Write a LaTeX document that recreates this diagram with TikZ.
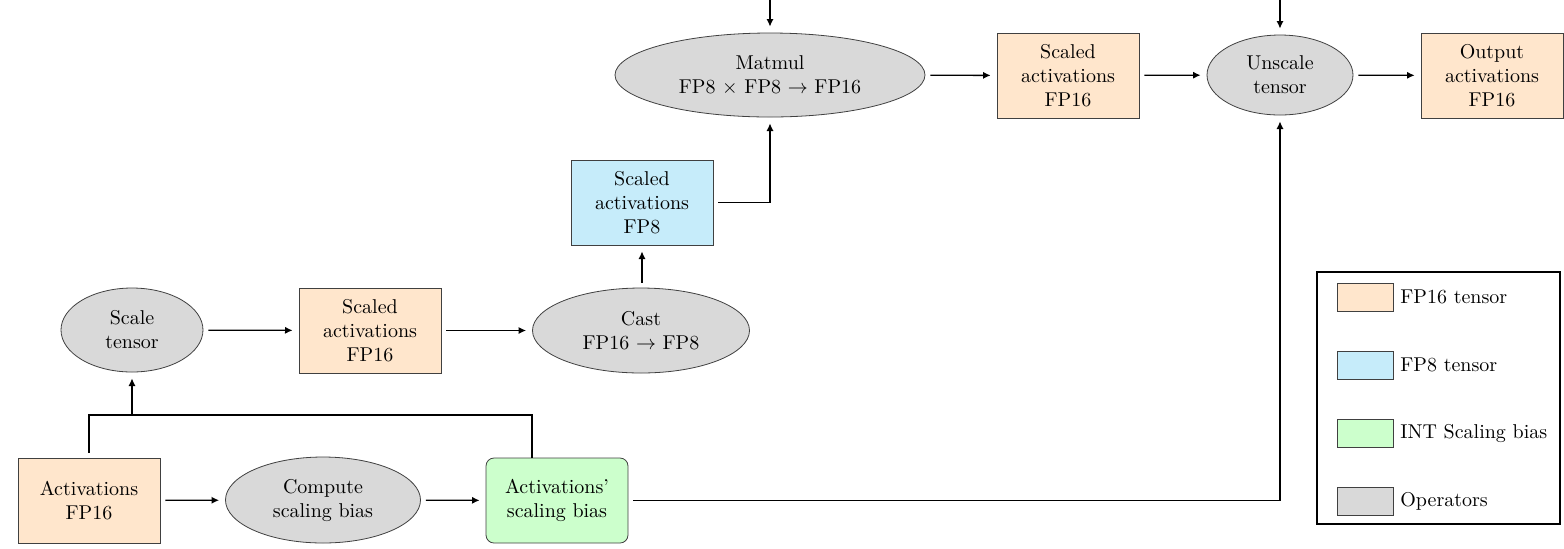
\documentclass[tikz,border=0pt]{standalone}
\usetikzlibrary{shapes.geometric,arrows.meta,calc}
\definecolor{fpsixteen}{RGB}{255,230,204}
\definecolor{fpeight}{RGB}{198,236,250}
\definecolor{intbias}{RGB}{204,255,204}
\definecolor{opgray}{RGB}{217,217,217}
\begin{document}
\begin{tikzpicture}[x=0.5pt,y=-0.5pt,
  tensor/.style={rectangle,draw=black!75,minimum width=71pt,minimum height=42.5pt,align=center,inner sep=2pt},
  fpsix/.style={tensor,fill=fpsixteen},
  fpei/.style={tensor,fill=fpeight},
  biasbox/.style={tensor,fill=intbias,rounded corners=4pt},
  op/.style={ellipse,draw=black!75,fill=opgray,align=center,inner sep=0pt},
  conn/.style={line width=0.65pt,-{Latex[length=3.8pt,width=3.6pt]},shorten >=3pt,shorten <=2.5pt},
  wire/.style={line width=0.65pt},
  swatch/.style={rectangle,draw=black!75,minimum width=28pt,minimum height=14pt,inner sep=0pt},
  legtext/.style={anchor=west,inner sep=0pt}]
\useasboundingbox (0,0) rectangle (1564,548);

% top row
\node[op,minimum width=155pt,minimum height=42pt] (matmul) at (770,75) {Matmul\\FP8 $\times$ FP8 $\rightarrow$ FP16};
\node[fpsix] (sa16top) at (1068,75.5) {Scaled\\activations\\FP16};
\node[op,minimum width=73pt,minimum height=40pt] (unscale) at (1280,75) {Unscale\\tensor};
\node[fpsix] (out) at (1492,75.5) {Output\\activations\\FP16};

% middle
\node[fpei] (sa8) at (642,202.5) {Scaled\\activations\\FP8};
\node[op,minimum width=71pt,minimum height=42pt] (scale) at (132,330) {Scale\\tensor};
\node[fpsix] (sa16mid) at (370,330.5) {Scaled\\activations\\FP16};
\node[op,minimum width=108.5pt,minimum height=42.5pt] (cast) at (641,330.5) {Cast\\FP16 $\rightarrow$ FP8};

% bottom
\node[fpsix] (act) at (89,500.5) {Activations\\FP16};
\node[op,minimum width=97.5pt,minimum height=43pt] (compute) at (323,500) {Compute\\scaling bias};
\node[biasbox] (bias) at (557,500.5) {Activations'\\scaling bias};

% free ends
\coordinate (topM) at (770,0);
\coordinate (topU) at (1280,0);
\coordinate (busL) at (89,415);
\coordinate (busM) at (132,415);
\coordinate (busR) at (532,415);

% connectors
\draw[conn,shorten <=0pt] (topM) -- (matmul.north);
\draw[conn,shorten <=0pt] (topU) -- (unscale.north);
\draw[conn] (matmul) -- (sa16top);
\draw[conn] (sa16top) -- (unscale);
\draw[conn] (unscale) -- (out);
\draw[conn] (sa8.east) -| (matmul.south);
\draw[conn] (cast.north -| sa8.south) -- (sa8.south);
\draw[conn] (scale) -- (sa16mid);
\draw[conn] (sa16mid) -- (cast);
\draw[conn] (act) -- (compute);
\draw[conn] (compute) -- (bias);
\draw[conn] (bias.east) -| (unscale.south);
\draw[wire,shorten <=2.5pt] (act.north) -- (busL) -- (busR) -- (busR |- bias.north);
\draw[conn,shorten <=0pt] (busM) -- (scale.south);

% legend
\node[draw=black,line width=0.7pt,minimum width=121.5pt,minimum height=126pt,inner sep=0pt] (legend) at (1438.5,398) {};
\node[swatch,fill=fpsixteen] (l1) at (1365,297) {};
\node[legtext] (l1t) at (1400,297) {FP16 tensor};
\node[swatch,fill=fpeight] (l2) at (1365,365) {};
\node[legtext] (l2t) at (1400,365) {FP8 tensor};
\node[swatch,fill=intbias] (l3) at (1365,433) {};
\node[legtext] (l3t) at (1400,433) {INT Scaling bias};
\node[swatch,fill=opgray] (l4) at (1365,501) {};
\node[legtext] (l4t) at (1400,501) {Operators};
\end{tikzpicture}
\end{document}
